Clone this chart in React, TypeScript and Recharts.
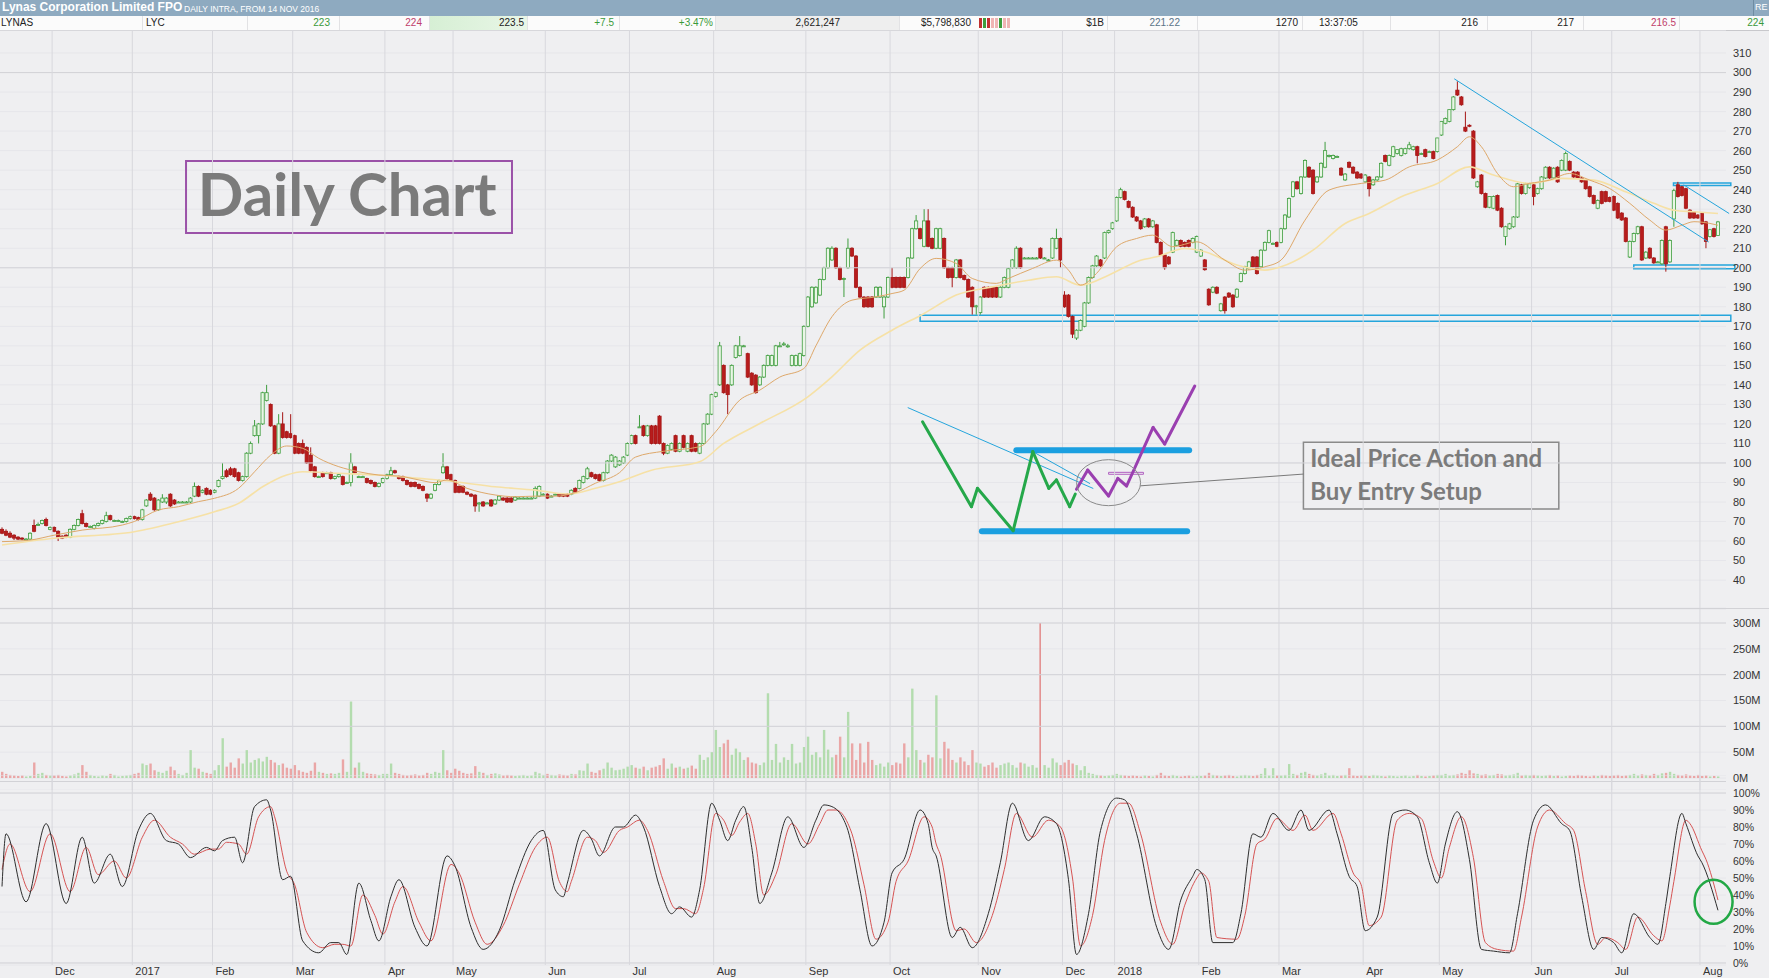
import React from 'react';
import {
  ComposedChart, Bar, Line, XAxis, YAxis, CartesianGrid,
  ReferenceLine, ReferenceArea, ReferenceDot,
} from 'recharts';

// daily candles [open, high, low, close], one array per month (cents)
const nov16 = [[66,67,63.5,64],[65,66,62.5,63],[64,65,61.5,62],[63,63.5,60.5,61.5],[62,62.5,60.5,61],[61.5,62,60.5,61],[61,61.5,60.5,61],[61,64.5,60.5,64],[68,71,64.5,65],[68.5,69.5,68,68.5],[69,71,68.5,70.5],[71,72,67.5,68],[66,67.5,65.5,67]];
const dec16 = [[67,67.5,64.5,65],[65,65.5,60,62],[62.5,63,61,61.5],[63,63.5,61.5,62],[62,66.5,61.5,66],[66,68.5,65.5,68],[68,71.5,67.5,71],[74,76,68.5,69],[69,69.5,67,67.5],[67.5,68,67,67.5],[66.5,68.5,66,68],[68,69.5,67.5,69],[69,71,68.5,70.5],[70,75,69.5,73],[73,73.5,70.5,71],[70.5,71,70,70.5],[70.5,71,70,70.5],[70,70.5,69.5,70],[70,72,69.5,71.5],[71.5,73,71,72.5]];
const jan17 = [[72.5,73,71,71.5],[72,72.5,70.5,71],[71,76.5,70.5,76],[78,81.5,77.5,81],[84,85,80.5,81],[82,82.5,75.5,76],[76,81.5,75.5,81],[80,84,79.5,82],[80,82.5,79,82],[84,84.5,77.5,78],[81,81.5,78.5,79],[80,80.5,79.5,80],[80,80.5,79.5,80],[80,80.5,79.5,80],[80,82.5,79.5,82],[83,90,82.5,88],[88,88.5,82.5,83],[85,86.5,84.5,86],[87,87.5,83.5,84],[86,86.5,83.5,84]];
const feb17 = [[85,86.5,84.5,86],[88,91.5,87.5,91],[92,100,91.5,93],[96,97,92.5,93],[97,98,93.5,94],[97,97.5,92.5,93],[95,95.5,90.5,91],[91,93.5,90.5,93],[93,105.5,92.5,105],[105,111,104.5,110],[114,122,113.5,119],[114,120.5,110,120],[120,136.5,119.5,136],[132,140,131.5,136],[130,130.5,118.5,119],[119,119.5,104.5,105],[105,125,104.5,120],[120,126,112.5,113],[116,116.5,112.5,113],[115,125,112.5,113]];
const mar17 = [[114,114.5,104.5,105],[110,110.5,104.5,105],[110,112,104.5,105],[108,108.5,99.5,100],[104,108,95.5,96],[98,98.5,92.5,93],[93,93.5,92.5,93],[95,95.5,92.5,93],[95,95.5,94.5,95],[95,95.5,91.5,92],[92,93.5,91.5,93],[93,94.5,92.5,94],[93,93.5,88.5,89],[90,90.5,89.5,90],[90,105,88,100],[98,98.5,94.5,95],[93,93.5,92.5,93],[93,93.5,92.5,93],[92,92.5,89.5,90],[91,91.5,89,89.5],[90,90.5,87.5,88],[88,90,87.5,89.5],[90,92.5,89.5,92]];
const apr17 = [[92,94.5,91.5,94],[94,98,93.5,96],[96,96.5,94.5,95],[93,93.5,91.5,92],[93,93.5,90.5,91],[91,91.5,88.5,89],[90,90.5,87.5,88],[90,90.5,87.5,88],[89,89.5,86.5,87],[88,88.5,85.5,86],[84,84.5,80,82],[82,84.5,81.5,84],[86,89.5,85.5,89],[89,91.5,88.5,91],[95,105,94.5,98],[98,98.5,91.5,92],[94,94.5,90.5,91]];
const may17 = [[91,91.5,84.5,85],[88,88.5,84.5,85],[88,88.5,84.5,85],[85,85.5,83.5,84],[84,84.5,82.5,83],[83.5,84,75,78],[79.5,80,75,79.5],[80,80.5,77.5,78],[79.5,80,79,79.5],[81,81.5,77.5,78],[79,81.5,78.5,81],[81,83.5,80.5,83],[82,82.5,80.5,81],[82,82.5,79.5,80],[82,82.5,79.5,80],[81,83,80.5,82.5],[82,82.5,81.5,82],[82,82.5,81.5,82],[82,82.5,81.5,82],[82,82.5,81.5,82],[82,88,81.5,87],[83,88.5,82.5,88],[84,84.5,83.5,84]];
const jun17 = [[84,84.5,81.5,82],[83,83.5,82.5,83],[84,84.5,83.5,84],[84,84.5,82.5,83],[84,84.5,82.5,83],[84,84.5,82.5,83],[84,86.5,83.5,86],[87,87.5,84.5,85],[87,91.5,86.5,91],[90,93.5,89.5,93],[92,98,91.5,97],[95,95.5,92.5,93],[94,94.5,91.5,92],[94,94.5,90.5,91],[91,95.5,90.5,95],[95,101.5,94.5,101],[101,104.5,100.5,104],[98,103.5,97.5,103],[99,101.5,98.5,101],[100,103.5,99.5,103],[104,110.5,103.5,110]];
const jul17 = [[110,114.5,109.5,114],[114,114.5,109.5,110],[118.5,124.5,118,118.5],[119,119.5,113.5,114],[114,119.5,113.5,119],[119,119.5,109.5,110],[119,119.5,109.5,110],[124,124.5,109.5,110],[110,110.5,104,105],[105,109.5,104.5,109],[107,110.5,106.5,110],[114,114.5,105.5,106],[106,110.5,105.5,110],[114,114.5,107.5,108],[106,110.5,105.5,110],[114,114.5,105.5,106],[110,110.5,105.5,106],[105,110.5,104.5,110],[110,120.5,109.5,120],[120,125.5,119.5,125],[125,135.5,124.5,135]];
const aug17 = [[134,136.5,133.5,136],[140,162,139.5,160],[150,150.5,135.5,136],[140,140.5,125,135],[140,150.5,139.5,150],[154,160.5,153.5,160],[155,165,154.5,160],[160,160.5,159.5,160],[156,156.5,143.5,144],[146,146.5,139.5,140],[145,145.5,135.5,136],[140,144.5,139.5,144],[144,150.5,143.5,150],[150,155.5,149.5,155],[150,155.5,149.5,155],[150,160.5,149.5,160],[160,162,159.5,160],[161,162,160,161],[160,161,159,160],[150,155.5,149.5,155],[150,155.5,149.5,155],[150,156.5,149.5,156],[155,170.5,154.5,170]];
const sep17 = [[170,185.5,169.5,185],[180,190.5,179.5,190],[182,190.5,181.5,190],[186,194.5,185.5,194],[194,200.5,193.5,200],[200,210.5,199.5,210],[204,211,203.5,210],[210,210.5,199.5,200],[200,200.5,193.5,194],[194,195,185,194.5],[200,215,199.5,210],[210,210.5,205.5,206],[206,206.5,189.5,190],[190,190.5,184.5,185],[185,185.5,179.5,180],[185,185.5,179.5,180],[185,185.5,179.5,180],[185,190.5,184.5,190],[185,190.5,184.5,190],[180,185.5,174,185],[185,195.5,184.5,195]];
const oct17 = [[195,200,189.5,190],[195,195.5,189.5,190],[195,195.5,189.5,190],[195,195.5,189.5,190],[195,205.5,194.5,205],[205,220.5,204.5,220],[220,227,219.5,224],[220,220.5,214.5,215],[211,230,210.5,224],[224,230,210.5,211],[215,215.5,209.5,210],[210,220.5,209.5,220],[210,220.5,209.5,220],[215,215.5,199.5,200],[200,200.5,194.5,195],[200,200.5,190,195],[195,204.5,194.5,204],[204,204.5,194.5,195],[196,196.5,193.5,194],[194,194.5,184.5,185],[190,190.5,176,180],[180,181,176,180.5]];
const nov17 = [[177,185.5,176,185],[190,190.5,184.5,185],[190,190.5,184.5,185],[190,190.5,184.5,185],[190,190.5,184.5,185],[185,190.5,184.5,190],[190,195.5,189.5,195],[190,200,189.5,199.5],[200,204.5,199.5,204],[200,211,199.5,210],[210,210.5,199.5,200],[205,205.5,204.5,205],[205,205.5,204.5,205],[205,205.5,204.5,205],[205,205.5,204.5,205],[210,210.5,204.5,205],[205,205.5,204.5,205],[204,204.5,203.5,204],[205,215.5,204.5,215],[210,220,209.5,215],[215,215.5,200,204]];
const dec17 = [[186,188,179.5,180],[186,186.5,174.5,175],[175,175.5,164,166],[164,168.5,163,168],[168,173.5,167.5,173],[170,182.5,169.5,182],[182,195.5,181.5,195],[195,201.5,194.5,201],[201,206.5,200.5,206],[204,204.5,200.5,201],[205,218.5,204.5,218],[218,219.5,217.5,219],[220,223.5,219.5,223]];
const jan18 = [[224,236.5,223.5,236],[236,241,235.5,240],[239,239.5,234.5,235],[234,234.5,230.5,231],[231,231.5,225.5,226],[226,226.5,223.5,224],[224,224.5,219.5,220],[221,225.5,220.5,225],[225,225.5,220.5,221],[221,224.5,220.5,224],[222,222.5,212.5,213],[213,213.5,206,206.5],[206.5,207,199,200],[205.5,206,201.5,202],[208,218.5,207.5,218],[211.5,214.5,211,214],[214,214.5,210.5,211],[213,213.5,210.5,211],[214,214.5,210.5,211],[213,215.5,212.5,215],[208,216.5,207.5,216]];
const feb18 = [[206,209.5,205.5,209],[204,204.5,198.5,199],[189,189.5,180.5,181],[187.5,190.5,187,190],[190,190.5,186.5,187],[178,182,177.5,181.5],[185,185.5,176.5,178],[187,187.5,184.5,185],[186,186.5,179.5,180],[185,189.5,184.5,189],[193,197.5,192.5,197],[197,201,196.5,200.5],[199.5,203.5,199,203],[205.5,206,200,200.5],[205.5,206,196.5,197],[200.5,209.5,200,209],[209,213.5,208.5,213],[213,219.5,212.5,219],[212.5,213,212,212.5],[213,213.5,210.5,211]];
const mar18 = [[213,220.5,212.5,220],[220,227.5,219.5,227],[226,236,225.5,235.5],[236.5,244.5,236,244],[244,244.5,240,240.5],[238,247,237.5,246.5],[246.5,255.5,246,255],[251.5,252,246,246.5],[250,250.5,237.5,238],[244,247,243.5,246.5],[246.5,254,246,253.5],[251.5,264.5,251,260],[257,258,256.5,257.5],[256,258,255.5,257.5],[257,257.5,256.5,257],[251,251.5,247,247.5],[245,248.5,244.5,248],[254,254.5,251,251.5],[251.5,252,248,248.5],[249,249.5,245.5,246],[248,248.5,245.5,246]];
const apr18 = [[244,248,243.5,247.5],[246.5,247,236.5,240.5],[242.5,245.5,242,245],[245,247,244.5,246.5],[246.5,254,246,253.5],[257.5,258,254,254.5],[252.5,258,252,257.5],[257,262.5,256.5,262],[258.5,260.5,258,260.5],[257.5,261.5,257,261],[258.5,261.5,258,261],[261,264.5,260.5,263],[260.5,262.5,260,262],[262,262.5,253.5,257.5],[258.5,259,258,258.5],[260.5,261,256.5,257],[259.5,260,259,259.5],[259.5,260,255.5,256],[259.5,266.5,259,266.5]];
const may18 = [[268,275,267.5,275],[274,277,273.5,276.5],[275,281,274.5,281],[281,288,280.5,287.5],[291,295.5,288,288.5],[287.5,288,283,283.5],[272,280,269.5,270],[273,273.5,272,272.5],[270,270.5,245.5,246],[241.5,244.5,241,244],[247.5,248,237.5,238],[238,238.5,230.5,231],[231,236.5,230.5,236.5],[230.5,237,230,236.5],[237,237.5,229,229.5],[230.5,231,220.5,221],[216,221.5,211.5,221],[220,223,219.5,222.5],[221,226.5,220.5,226],[226,243.5,225.5,243],[242.5,243,237.5,238],[238,243.5,237.5,243],[241,243.5,240.5,243]];
const jun18 = [[242.5,243,232,236.5],[238,241,237.5,240.5],[240.5,247,240,246.5],[246,252,245.5,251.5],[251.5,252,245.5,246],[246,251.5,245.5,251],[251.5,252,243.5,244],[250,255.5,249.5,255],[250,259.5,249.5,258.5],[254.5,255,249.5,250],[249,249.5,246,246.5],[249,249.5,245.5,246],[246,246.5,243.5,244],[245,245.5,240,240.5],[241.5,242,236,236.5],[237,237.5,232.5,233],[230.5,235,230,234.5],[239,239.5,232.5,233],[239,239.5,233.5,234],[236,236.5,233.5,234]];
const jul18 = [[236.5,237,229,229.5],[233,233.5,225,225.5],[228,228.5,224,224.5],[225.5,226,213,213.5],[205.5,214,205,213.5],[213.5,218,213,217.5],[217.5,221.5,217,221],[221,221.5,203.5,204],[205,208.5,204.5,208],[210,210.5,204.5,205],[205,205.5,202,202.5],[203,203.5,202.5,203],[202,214.5,201.5,214],[221,221.5,198,202],[203,214.5,202.5,214],[225,240.5,221,239.5],[242.5,244,236,236.5],[241.5,242,236.5,237],[240.5,241,230,230.5],[229.5,230,225,225.5],[228.5,229,225,225.5],[227,227.5,225,225.5]];
const aug18 = [[228,228.5,222,222.5],[223.5,224,210,213.5],[216,219.5,215.5,219.5],[220,220.5,215.5,216],[216.5,224,216.5,223.5]];

// daily volume, millions of shares
const volNov16 = [12,8,6,5,4,5,3,4,30,8,10,6,5];
const volDec16 = [5,6,4,3,5,7,10,25,12,6,4,3,5,4,8,6,3,4,5,6];
const volJan17 = [8,10,28,25,28,15,12,10,14,22,15,8,6,10,54,20,18,12,10,8];
const volFeb17 = [15,25,77,22,30,20,38,28,54,30,35,38,32,41,35,30,25,28,20,18];
const volMar17 = [25,15,12,10,14,30,12,10,8,9,8,10,36,12,148,20,30,12,9,8,7,6,8];
const volApr17 = [8,28,10,8,6,5,6,7,5,6,10,8,12,10,54,15,10];
const volMay17 = [18,14,10,8,9,23,12,10,6,8,9,7,5,6,5,4,5,6,4,5,12,9,6];
const volJun17 = [8,6,5,7,6,5,8,7,15,14,28,12,10,15,18,30,20,15,16,18,22];
const volJul17 = [25,20,18,22,15,20,22,25,38,18,28,20,22,18,20,24,18,45,35,40,50];
const volAug17 = [93,60,67,74,45,57,50,35,40,30,28,25,30,164,35,66,30,40,35,66,28,30,60];
const volSep17 = [80,45,50,40,93,55,40,45,80,40,128,67,35,67,30,70,35,25,28,22,30];
const volOct17 = [25,30,28,67,40,173,54,35,30,45,40,160,38,70,57,35,30,40,32,25,54,30];
const volNov17 = [28,22,25,30,20,25,28,30,25,20,30,28,22,25,20,300,25,20,38,30,25];
const volDec17 = [30,35,28,25,15,23,10,8,6,5,4,5,6];
const volJan18 = [8,6,5,4,5,4,3,5,4,3,6,10,5,4,6,4,3,4,5,3,4];
const volFeb18 = [4,5,10,6,5,4,5,6,4,3,5,6,5,4,6,8,19,5,19,5];
const volMar18 = [5,6,27,8,6,10,12,8,6,5,7,10,5,6,4,5,6,19,5,4,5];
const volApr18 = [5,4,6,5,4,3,5,4,3,4,5,3,4,6,4,3,4,5,6];
const volMay18 = [6,8,5,6,7,10,8,15,9,8,6,7,5,6,8,7,5,6,7,10,5,6,5];
const volJun18 = [6,5,4,5,6,4,5,3,4,5,4,6,5,4,3,5,4,6,5,4];
const volJul18 = [5,6,4,5,6,8,5,7,6,5,8,6,9,10,12,8,6,5,7,5,4,6];
const volAug18 = [4,5,3,4,3];

// moving averages, [day index, value]
const fastMA = [[0,59.7],[7,60.5],[13,63],[20,65.6],[30,68.2],[33,70],[39,75.9],[44,77.6],[49,80.2],[53,81.9],[59,87],[63,95.5],[67,104],[71,108.7],[75,107.5],[79,102.4],[84,98.1],[89,95.5],[94,93.8],[99,93.3],[104,91.3],[108,89.9],[111,91.3],[116,87],[123,83.6],[128,82.7],[133,83],[138,83],[143,84.8],[148,89.6],[154,95],[158,103],[165,106],[174,108.3],[178,116],[184,132.2],[189,137.3],[194,144],[200,148.4],[203,160],[207,174.9],[212,183.4],[218,185.1],[222,186.8],[225,188.5],[229,199.6],[233,204.8],[238,202.2],[242,194.5],[248,192],[251,194.5],[257,199.6],[263,203.9],[266,198.8],[269,191.1],[273,197.1],[278,210.7],[283,215],[287,216.7],[292,210.8],[298,213.3],[305,203.9],[310,198.8],[315,200.5],[319,203.9],[325,224.4],[331,239.8],[339,243.2],[345,244.9],[351,251.7],[358,255.2],[363,262],[366,267.1],[369,262],[373,248.3],[377,241.5],[381,243.2],[386,244.9],[391,248.3],[396,244.9],[401,240.6],[406,233],[411,224.4],[415,219.3],[419,221.8],[422,223.6],[426,222.7],[428,221.8]];
const slowMA = [[0,58],[13,61.4],[33,64.8],[44,69.9],[53,75],[59,79.3],[65,87.8],[71,93.8],[75,95.5],[84,94.7],[94,93.8],[104,92.1],[113,90.4],[123,87.8],[133,86.1],[141,84.1],[148,87],[154,90.4],[162,96.3],[174,100.6],[180,110],[189,120.2],[201,133.9],[207,144.1],[214,157.8],[222,168],[230,176.6],[238,186],[247,190.2],[256,193.6],[263,195.4],[269,191.1],[276,196.2],[284,203.9],[288,205.6],[295,209.9],[300,208.2],[308,201.4],[315,198.8],[319,200.5],[327,209],[335,222.7],[341,227.8],[349,236.4],[358,243.2],[366,251.7],[372,247.5],[381,243.2],[389,245.8],[397,244.9],[405,238.9],[412,233],[417,229.5],[422,228.7],[428,227.8]];

// slow stochastic, [day index, %]
const stochK = [[0,45],[1,76],[6,36],[11,82],[16,35],[20,74],[23,47],[27,64],[30,45],[34,78],[37,88],[41,72],[44,70],[47,62],[51,68],[53,66],[55,72],[58,74],[60,59],[63,92],[66,96],[67,90],[70,49],[72,51],[75,13],[79,6],[82,12],[84,12],[86,5],[89,47],[92,25],[94,13],[97,39],[99,49],[103,21],[106,10],[111,63],[113,57],[117,21],[120,8],[124,19],[128,49],[132,72],[135,78],[138,43],[140,39],[141,47],[145,78],[147,73],[149,63],[153,80],[155,80],[158,87],[160,80],[164,45],[167,29],[169,33],[172,27],[174,43],[177,94],[179,84],[181,72],[183,84],[185,92],[187,68],[189,35],[192,53],[196,86],[200,68],[203,84],[205,93],[207,92],[210,84],[211,78],[214,43],[217,10],[220,24],[222,53],[225,61],[229,90],[231,82],[232,68],[233,63],[237,15],[239,21],[242,9],[246,29],[249,59],[252,94],[256,72],[260,86],[263,82],[266,49],[268,5],[271,29],[274,78],[278,97],[280,96],[283,76],[288,21],[291,8],[294,37],[297,51],[298,55],[300,49],[302,12],[307,12],[309,29],[312,76],[314,74],[317,88],[321,78],[324,90],[326,78],[331,90],[333,76],[336,51],[338,45],[340,19],[343,27],[347,88],[350,90],[353,86],[356,59],[358,47],[360,70],[363,89],[366,61],[369,8],[372,7],[376,6],[378,29],[382,84],[385,93],[389,82],[391,78],[394,39],[397,8],[399,15],[402,12],[404,6],[407,29],[411,15],[413,11],[415,35],[416,51],[419,88],[420,82],[423,63],[424,59],[428,31]];
const stochD = [[0,55],[2,70],[7,42],[12,76],[17,42],[21,68],[24,52],[28,60],[31,50],[35,74],[38,84],[42,74],[45,70],[48,64],[52,67],[54,67],[56,71],[59,70],[61,64],[64,86],[67,92],[68,86],[71,54],[73,46],[76,18],[80,9],[83,11],[85,11],[87,10],[90,40],[93,28],[95,17],[98,36],[100,45],[104,24],[107,13],[112,58],[114,53],[118,24],[121,11],[125,22],[129,46],[133,68],[136,74],[139,48],[141,42],[142,48],[146,74],[148,72],[150,65],[154,78],[156,80],[159,84],[161,78],[165,48],[168,32],[170,32],[173,29],[175,44],[178,88],[180,84],[182,75],[184,83],[186,88],[188,70],[190,40],[193,52],[197,82],[201,70],[204,82],[206,90],[208,90],[211,82],[212,76],[215,46],[218,14],[221,24],[223,48],[226,60],[230,86],[232,80],[233,70],[234,64],[238,19],[240,20],[243,12],[247,28],[250,55],[253,88],[257,74],[261,84],[264,80],[267,50],[269,10],[272,28],[275,72],[279,94],[281,94],[284,76],[289,24],[292,11],[295,34],[298,50],[299,53],[301,48],[303,15],[308,14],[310,28],[313,70],[315,73],[318,85],[322,78],[325,87],[327,78],[332,88],[334,76],[337,53],[339,46],[341,22],[344,27],[348,84],[351,88],[354,85],[357,60],[359,50],[361,68],[364,86],[367,62],[370,12],[373,8],[377,7],[379,27],[383,80],[386,90],[390,82],[392,78],[395,42],[398,11],[400,15],[403,12],[405,8],[408,27],[412,16],[414,13],[416,34],[417,48],[420,84],[421,82],[424,66],[425,61],[428,37]];

// axis ticks
const monthStarts = [13,33,53,73,96,113,136,157,178,201,222,244,265,278,299,319,340,359,382,402,424];
const monthLabels = ['Dec','2017','Feb','Mar','Apr','May','Jun','Jul','Aug','Sep','Oct','Nov','Dec','2018','Feb','Mar','Apr','May','Jun','Jul','Aug'];
const priceTicks = [40,50,60,70,80,90,100,110,120,130,140,150,160,170,180,190,200,210,220,230,240,250,260,270,280,290,300,310];
const volTicks = [0,50,100,150,200,250,300];
const stochTicks = [0,10,20,30,40,50,60,70,80,90,100];

// quote strip
const quoteCells = [
  { t: 'LYNAS', left: 1, c: '#222' },
  { t: 'LYC', left: 146, c: '#222' },
  { t: '223', right: 330, c: '#3a9a3a' },
  { t: '224', right: 422, c: '#c0406a' },
  { t: '223.5', right: 524, c: '#222' },
  { t: '+7.5', right: 614, c: '#3a9a3a' },
  { t: '+3.47%', right: 713, c: '#3a9a3a' },
  { t: '2,621,247', right: 840, c: '#222' },
  { t: '$5,798,830', right: 971, c: '#222' },
  { t: '$1B', right: 1104, c: '#222' },
  { t: '221.22', right: 1180, c: '#5a7488' },
  { t: '1270', right: 1298, c: '#222' },
  { t: '13:37:05', left: 1319, c: '#222' },
  { t: '216', right: 1478, c: '#222' },
  { t: '217', right: 1574, c: '#222' },
  { t: '216.5', right: 1676, c: '#c0406a' },
  { t: '224', right: 1764, c: '#3a9a3a' },
];
const quoteSeparators = [142,247,339,429,527,619,715,899,1107,1197,1302,1390,1487,1583,1679];
const tradeBars = ['#c03030','#3d9d3d','#c03030','#f0b4b4','#f0b4b4','#3d9d3d','#f0b4b4','#f0b4b4'];

const allCandles = [...nov16, ...dec16, ...jan17, ...feb17, ...mar17, ...apr17, ...may17, ...jun17, ...jul17, ...aug17, ...sep17, ...oct17, ...nov17, ...dec17, ...jan18, ...feb18, ...mar18, ...apr18, ...may18, ...jun18, ...jul18, ...aug18];
const allVolume = [...volNov16, ...volDec16, ...volJan17, ...volFeb17, ...volMar17, ...volApr17, ...volMay17, ...volJun17, ...volJul17, ...volAug17, ...volSep17, ...volOct17, ...volNov17, ...volDec17, ...volJan18, ...volFeb18, ...volMar18, ...volApr18, ...volMay18, ...volJun18, ...volJul18, ...volAug18];

const fastAt = new Map(fastMA.map(([i, v]) => [i, v]));
const slowAt = new Map(slowMA.map(([i, v]) => [i, v]));
const kAt = new Map(stochK.map(([i, v]) => [i, v]));
const dAt = new Map(stochD.map(([i, v]) => [i, v]));

const rows = allCandles.map(([o, h, l, c], i) => ({
  i, o, h, l, c, up: c >= o,
  vol: allVolume[i] ?? 0,
  fast: fastAt.get(i) ?? null,
  slow: slowAt.get(i) ?? null,
  k: kAt.get(i) ?? null,
  d: dAt.get(i) ?? null,
}));

const W = 1769;
const AXIS_W = 43;
const X_DOMAIN: [number, number] = [-0.5, 430];
const FONT = "'Liberation Sans', Arial, sans-serif";
const BG = '#efeff1';
const CYAN = '#25a5dc';
const tickStyle = { fill: '#333', fontSize: 11, fontFamily: FONT };

const hiLo = (d: any) => [d.l, d.h];

const Candle = (props: any) => {
  const { x, y, width, height, payload } = props;
  if (!payload) return null;
  const { o, h, l, c } = payload;
  const top = Math.min(y, y + height);
  const span = Math.abs(height);
  const range = h - l || 1;
  const toY = (v: number) => top + ((h - v) / range) * span;
  const cx = x + width / 2;
  const up = c >= o;
  const bTop = toY(Math.max(o, c));
  const bH = Math.max(toY(Math.min(o, c)) - bTop, 1);
  const col = up ? '#3e9d3e' : '#a51616';
  return (
    <g>
      <line x1={cx} x2={cx} y1={top} y2={top + span} stroke={col} strokeWidth={1} />
      <rect x={cx - 1.6} y={bTop} width={3.2} height={bH} fill={up ? '#eaf6e6' : '#b81c1c'} stroke={col} strokeWidth={0.8} />
    </g>
  );
};

const VolBar = (props: any) => {
  const { x, y, width, height, payload } = props;
  if (!payload) return null;
  const big = payload.vol > 250;
  return <rect x={x} y={Math.min(y, y + height)} width={big ? 1.5 : width} height={Math.abs(height)} fill={payload.up ? '#b3dcae' : big ? '#e28a8a' : '#eaa6a6'} />;
};

const MonthTick = (props: any) => {
  const { x, y, payload } = props;
  const idx = monthStarts.indexOf(Math.round(payload.value + 0.5));
  return (
    <text x={x + 3} y={y + 10} fontSize={11} fill="#333" fontFamily={FONT}>{monthLabels[idx]}</text>
  );
};

const seg = (pts: number[][], stroke: string, width: number, key: string) =>
  pts.slice(1).map((p, n) => (
    <ReferenceLine
      key={`${key}${n}`}
      segment={[{ x: pts[n][0], y: pts[n][1] }, { x: p[0], y: p[1] }]}
      stroke={stroke}
      strokeWidth={width}
      strokeLinecap="round"
      ifOverflow="visible"
    />
  ));

// hand-drawn annotations, in chart coordinates [day index, price]
const greenSwing = [[229.6,121.1],[241.8,77.6],[243.3,87],[252.2,65.3],[257.1,105.8],[261.1,87],[263,91.3],[266.3,77.6],[267.7,84.1]];
const purpleSwing = [[268,86.5],[270.8,96.4],[276,83.1],[278.3,92.1],[280.5,88.2],[287.1,118.2],[290,109.7],[297.5,139.4]];

const textAt = (text: string, size: number, anchor: 'start' | 'middle') => (p: any) => (
  <text x={p.cx} y={p.cy} fontSize={size} fontWeight={700} fill="#7b7b7b" fontFamily="Lato, 'Open Sans', sans-serif" textAnchor={anchor}>{text}</text>
);

function PriceChart() {
  return (
    <ComposedChart width={W} height={578} data={rows} margin={{ top: 0, right: 0, bottom: 0, left: 0 }}>
      <CartesianGrid vertical={false} stroke="#e6e6ea" />
      <XAxis type="number" dataKey="i" domain={X_DOMAIN} hide allowDataOverflow />
      <YAxis orientation="right" width={AXIS_W} domain={[25.7, 321.8]} ticks={priceTicks} interval={0}
        allowDataOverflow axisLine={false} tickLine={false} tickSize={0} tickMargin={7} tick={tickStyle} />
      {[100, 200, 300].map(v => <ReferenceLine key={`h${v}`} y={v} stroke="#d3d3d8" />)}
      {monthStarts.map(s => <ReferenceLine key={`m${s}`} x={s - 0.5} stroke="#d8d8dd" />)}
      <Line dataKey="slow" type="monotone" connectNulls dot={false} stroke="#f6e1a6" strokeWidth={1.6} isAnimationActive={false} />
      <Line dataKey="fast" type="monotone" connectNulls dot={false} stroke="#dea86a" strokeWidth={1} isAnimationActive={false} />
      <Bar dataKey={hiLo} barSize={4} shape={Candle} isAnimationActive={false} />

      {/* support / resistance boxes and trend lines */}
      <ReferenceArea x1={229} x2={431.2} y1={172.6} y2={175.7} fill="none" stroke={CYAN} strokeWidth={1.5} ifOverflow="visible" />
      <ReferenceArea x1={416.9} x2={431.2} y1={242.2} y2={243.4} fill="none" stroke={CYAN} strokeWidth={1.5} ifOverflow="visible" />
      <ReferenceArea x1={407} x2={432.2} y1={199.5} y2={201.4} fill="none" stroke={CYAN} strokeWidth={1.5} ifOverflow="visible" />
      {seg([[362.3, 296.7], [425.6, 213.3]], CYAN, 1, 'tl')}
      {seg([[419.5, 242.4], [430.7, 227.9]], CYAN, 1, 'tu')}

      {/* "Daily Chart" tag */}
      <ReferenceArea x1={45.9} x2={127.2} y1={217.8} y2={254.7} fill="none" stroke="#9b52a8" strokeWidth={2} />
      <ReferenceDot x={86.1} y={226.5} r={0} shape={textAt('Daily Chart', 60, 'middle')} />

      {/* ideal price action sketch */}
      {seg([[226, 128.3], [272.1, 87]], CYAN, 1, 'c1')}
      {seg([[257.1, 105.8], [271.3, 89.5]], CYAN, 1, 'c2')}
      {seg([[253, 106.5], [296.1, 106.5]], '#1b9fe0', 6, 'bt')}
      {seg([[244.4, 65], [295.6, 65]], '#1b9fe0', 6, 'bb')}
      {seg(greenSwing, '#25a84a', 3, 'g')}
      {seg(purpleSwing, '#9a3fb0', 3, 'p')}
      <ReferenceArea x1={276} x2={284.7} y1={94.2} y2={95.2} fill="none" stroke="#b060c0" strokeWidth={1} />
      <ReferenceDot x={276} y={89.9} r={0}
        shape={(p: any) => <ellipse cx={p.cx} cy={p.cy} rx={32} ry={23} fill="none" stroke="#8a8a8a" strokeWidth={1} />} />
      {seg([[284, 88.3], [324.6, 94.3]], '#7a7a7a', 1, 'cn')}
      <ReferenceArea x1={324.6} x2={388.3} y1={76.4} y2={110.6} fill={BG} fillOpacity={1} stroke="#8a8a8a" strokeWidth={1.5} />
      <ReferenceDot x={326.3} y={98.1} r={0} shape={textAt('Ideal Price Action and', 24, 'start')} />
      <ReferenceDot x={326.3} y={81} r={0} shape={textAt('Buy Entry Setup', 24, 'start')} />
    </ComposedChart>
  );
}

// volume pane: 609..790, 0M sits at y=778, 300M at y=623
function VolumeChart() {
  return (
    <ComposedChart width={W} height={181} data={rows} margin={{ top: 0, right: 0, bottom: 0, left: 0 }}>
      <CartesianGrid vertical={false} stroke="#e6e6ea" />
      <XAxis type="number" dataKey="i" domain={X_DOMAIN} hide allowDataOverflow />
      <YAxis orientation="right" width={AXIS_W} domain={[-23.2, 327.1]} ticks={volTicks} interval={0}
        allowDataOverflow axisLine={false} tickLine={false} tickSize={0} tickMargin={7} tick={tickStyle}
        tickFormatter={(v: number) => `${v}M`} />
      {[100, 200, 300].map(v => <ReferenceLine key={`h${v}`} y={v} stroke="#d3d3d8" />)}
      {monthStarts.map(s => <ReferenceLine key={`m${s}`} x={s - 0.5} stroke="#d8d8dd" />)}
      <Bar dataKey="vol" barSize={2.4} shape={VolBar} isAnimationActive={false} />
    </ComposedChart>
  );
}

// stochastic pane: 775..978, 100% at y=793, 0% at y=963
function StochChart() {
  return (
    <ComposedChart width={W} height={203} data={rows} margin={{ top: 0, right: 0, bottom: 0, left: 0 }}>
      <CartesianGrid vertical={false} stroke="#e6e6ea" />
      <XAxis type="number" dataKey="i" domain={X_DOMAIN} allowDataOverflow height={13}
        ticks={monthStarts.map(s => s - 0.5)} interval={0} axisLine={false} tickLine={false}
        tickSize={0} tickMargin={0} tick={<MonthTick />} />
      <YAxis orientation="right" width={AXIS_W} domain={[-1.18, 110.6]} ticks={stochTicks} interval={0}
        allowDataOverflow axisLine={false} tickLine={false} tickSize={0} tickMargin={7}
        tick={{ ...tickStyle, fontSize: 10.5 }} tickFormatter={(v: number) => `${v}%`} />
      {[0, 100].map(v => <ReferenceLine key={`h${v}`} y={v} stroke="#d3d3d8" />)}
      {monthStarts.map(s => <ReferenceLine key={`m${s}`} x={s - 0.5} stroke="#d8d8dd" />)}
      <Line dataKey="d" type="monotone" connectNulls dot={false} stroke="#d65454" strokeWidth={1} isAnimationActive={false} />
      <Line dataKey="k" type="monotone" connectNulls dot={false} stroke="#2e2e2e" strokeWidth={1} isAnimationActive={false} />
      <ReferenceDot x={426.9} y={36} r={0}
        shape={(p: any) => <ellipse cx={p.cx} cy={p.cy} rx={19} ry={22} fill="none" stroke="#22a845" strokeWidth={2.5} />} />
    </ComposedChart>
  );
}

export default function App() {
  return (
    <div style={{ position: 'relative', width: W, height: 978, background: BG, overflow: 'hidden', fontFamily: FONT }}>
      <style>{'body{margin:0;}'}</style>
      {/* title bar */}
      <div style={{ position: 'absolute', left: 0, top: 0, width: W, height: 16, background: '#8eaac0', color: '#fff' }}>
        <span style={{ position: 'absolute', left: 2, top: 0, fontSize: 12, fontWeight: 700 }}>Lynas Corporation Limited FPO</span>
        <span style={{ position: 'absolute', left: 184, top: 4, fontSize: 8.5 }}>DAILY INTRA, FROM 14 NOV 2016</span>
        <span style={{ position: 'absolute', left: 1753, top: 0, height: 16, borderLeft: '1px solid #6f8ca2' }} />
        <span style={{ position: 'absolute', left: 1755, top: 2, fontSize: 9 }}>RE</span>
      </div>
      {/* quote strip */}
      <div style={{ position: 'absolute', left: 0, top: 16, width: W, height: 14, background: '#fbfbfb', borderBottom: '1px solid #c8c8cc' }}>
        <div style={{ position: 'absolute', left: 429, top: 0, width: 98, height: 14, background: 'linear-gradient(90deg,#d6efd4,#e9f6e7)' }} />
        <div style={{ position: 'absolute', left: 715, top: 0, width: 184, height: 14, background: '#eeeeee' }} />
        {quoteSeparators.map(s => (
          <div key={s} style={{ position: 'absolute', left: s, top: 0, width: 1, height: 14, background: '#e2e2e4' }} />
        ))}
        <div style={{ position: 'absolute', left: 979, top: 2, height: 10, display: 'flex', gap: 1 }}>
          {tradeBars.map((c, n) => <div key={n} style={{ width: 3, height: 10, background: c }} />)}
        </div>
        {quoteCells.map((q, n) => (
          <span key={n} style={{
            position: 'absolute', top: 1, fontSize: 10, color: q.c, whiteSpace: 'nowrap',
            ...(q.left !== undefined ? { left: q.left } : { right: W - (q.right as number) }),
          }}>{q.t}</span>
        ))}
      </div>
      <div style={{ position: 'absolute', left: 0, top: 30 }}><PriceChart /></div>
      <div style={{ position: 'absolute', left: 0, top: 608, width: W, height: 1, background: '#d2d2d6' }} />
      <div style={{ position: 'absolute', left: 0, top: 609 }}><VolumeChart /></div>
      <div style={{ position: 'absolute', left: 0, top: 781, width: 1726, height: 1, background: '#d2d2d6' }} />
      <div style={{ position: 'absolute', left: 0, top: 775 }}><StochChart /></div>
    </div>
  );
}
